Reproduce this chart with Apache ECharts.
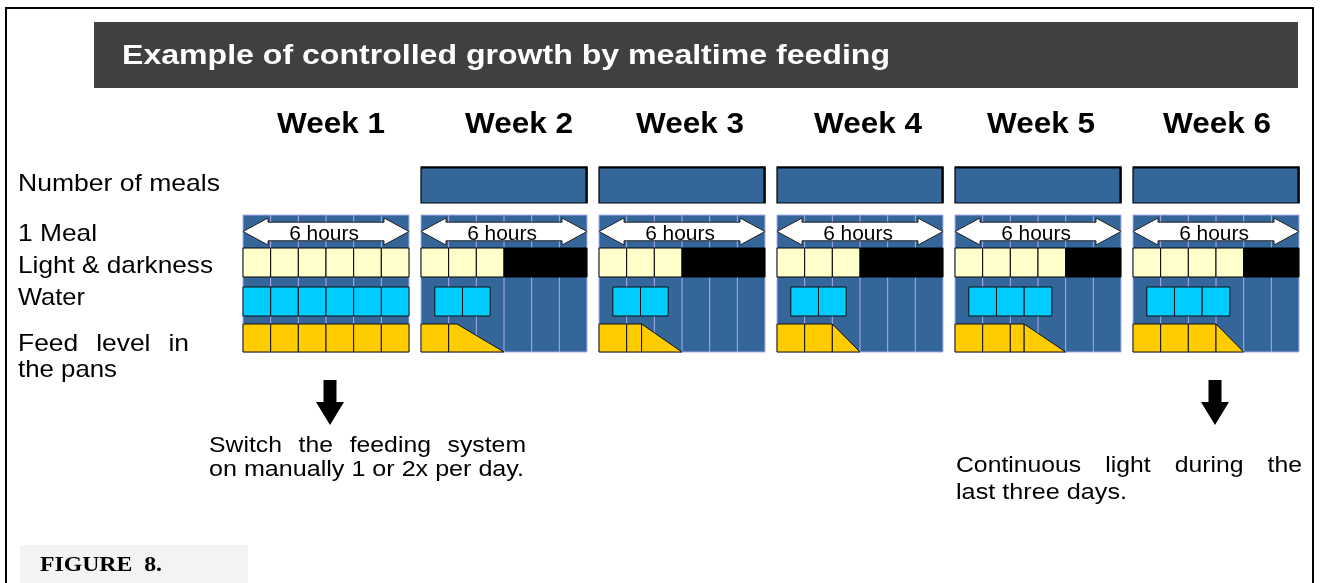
<!DOCTYPE html>
<html><head><meta charset="utf-8">
<script src="https://cdn.jsdelivr.net/npm/echarts@6/dist/echarts.min.js"></script>
<style>html,body{margin:0;padding:0;background:#fff}#c{width:1320px;height:583px}</style>
</head><body><div id="c"></div>
<script>
// ---------- data ----------
const title = 'Example of controlled growth by mealtime feeding';
const weeks = ['Week 1','Week 2','Week 3','Week 4','Week 5','Week 6'];
const rowLabels = ['Number of meals','1 Meal','Light & darkness','Water','Feed level in','the pans'];
const hoursPerBlock = 6;
const spanLabel = '6 hours';
const mealBar = [0,1,1,1,1,1];
const lightCells = [6,3,3,3,4,4];
const waterStart = [0,0.5,0.5,0.5,0.5,0.5];
const waterCells = [6,2,2,2,3,3];
const feedSegments = [[1,1,1,1,1,1],[1],[1,0.54],[1,1],[1,1,0.5],[1,1,1]];
const feedSlopeTop = [0,0.3,0,0,0,0];
const feedSlopeEnd = [6,3,3,3,4,4];
const noteWeeks = [0,5];
const notes = [['Switch the feeding system','on manually 1 or 2x per day.'],['Continuous light during the','last three days.']];
const figureLabel = 'FIGURE  8.';

// ---------- layout ----------
const G_LEFT = 243, G_PITCH = 178, G_W = 166, G_TOP = 167, G_H = 185;
const ROW = {meal:[0,36], bg:[48,185], arrowMid:64.5, light:[81,110], water:[120,149], feed:[157,185]};
const weekLabelX = [331, 519, 690, 868, 1041, 1217];
const SANS = '"Liberation Sans", Arial, sans-serif';
const SERIF = '"Liberation Serif", "Times New Roman", serif';
const BLUE = '#346699', LAV = '#a9aef0';

const ctx = document.createElement('canvas').getContext('2d');
function measure(t, font){ ctx.font = font; return ctx.measureText(t).width; }
function txt(t, font, x, y, sx, fill, align){
  return {type:'text', x:x, y:y, scaleX:sx, originX:0, originY:0, z:10,
    style:{text:t, font:font, fill:fill||'#000', align:align||'left', verticalAlign:'middle',
      textAlign:align||'left', textVerticalAlign:'middle'}};
}
function fit(t, font, x0, x1, y, fill){ return txt(t, font, x0, y, (x1-x0)/measure(t,font), fill); }
function justify(t, font, x0, x1, y, sx){
  const words = t.split(' ');
  const ws = words.map(w => measure(w,font)*sx);
  const total = ws.reduce((a,b)=>a+b,0);
  const gap = (x1-x0-total)/(words.length-1);
  let x = x0; const out = [];
  words.forEach((w,i)=>{ out.push(txt(w,font,x,y,sx)); x += ws[i]+gap; });
  return out;
}

function weekItems(w){
  const it = [];
  it.push([0,0,hoursPerBlock,0]);
  for (let k=1;k<hoursPerBlock;k++) it.push([1,k,k,0]);
  if (mealBar[w]) it.push([2,0,hoursPerBlock,0]);
  it.push([3,0,hoursPerBlock,0]);
  for (let k=0;k<lightCells[w];k++) it.push([4,k,k+1,0]);
  if (lightCells[w]<hoursPerBlock) it.push([5,lightCells[w],hoursPerBlock,0]);
  for (let k=0;k<waterCells[w];k++) it.push([6,waterStart[w]+k,waterStart[w]+k+1,0]);
  let x = 0;
  feedSegments[w].forEach(s => { it.push([7,x,x+s,0]); x += s; });
  if (feedSlopeEnd[w] > x) it.push([8,x,feedSlopeEnd[w],feedSlopeTop[w]]);
  return it;
}

function renderItem(params, api){
  const kind = api.value(0), a = api.value(1), b = api.value(2), c = api.value(3);
  function R(x0,x1,yy){ const p0=api.coord([x0,yy[0]]), p1=api.coord([x1,yy[1]]);
    return {x:p0[0], y:p0[1], width:p1[0]-p0[0], height:p1[1]-p0[1]}; }
  if (kind===0) return {type:'rect', shape:R(a,b,ROW.bg), style:{fill:BLUE, stroke:LAV, lineWidth:1}};
  if (kind===1){ const p0=api.coord([a,ROW.bg[0]]), p1=api.coord([a,ROW.bg[1]]);
    return {type:'line', shape:{x1:p0[0],y1:p0[1],x2:p1[0],y2:p1[1]}, style:{stroke:LAV, lineWidth:1}}; }
  if (kind===2){
    const r = R(a,b,ROW.meal);
    return {type:'group', children:[
      {type:'rect', shape:r, style:{fill:BLUE, stroke:'#000', lineWidth:1.2}},
      {type:'polyline', shape:{points:[[r.x,r.y+0.5],[r.x+r.width-0.5,r.y+0.5],[r.x+r.width-0.5,r.y+r.height]]}, style:{stroke:'#000', lineWidth:2.2, fill:null}}
    ]};
  }
  if (kind===3){
    const p0=api.coord([a,ROW.arrowMid]), p1=api.coord([b,ROW.arrowMid]);
    const x0=p0[0], x1=p1[0], ym=p0[1], hl=25, hh=13.5, sh=9.3;
    const pts=[[x0,ym],[x0+hl,ym-hh],[x0+hl,ym-sh],[x1-hl,ym-sh],[x1-hl,ym-hh],[x1,ym],
      [x1-hl,ym+hh],[x1-hl,ym+sh],[x0+hl,ym+sh],[x0+hl,ym+hh]];
    return {type:'group', children:[
      {type:'polygon', shape:{points:pts}, style:{fill:'#fff', stroke:'#222', lineWidth:1}},
      {type:'text', x:(x0+x1)/2 - 2, y:ym+2.5, scaleX:1.02, style:{text:spanLabel, font:'20.5px '+SANS, fill:'#000',
        align:'center', verticalAlign:'middle', textAlign:'center', textVerticalAlign:'middle'}}
    ]};
  }
  if (kind===4) return {type:'rect', shape:R(a,b,ROW.light), style:{fill:'#ffffcc', stroke:'#000', lineWidth:1}};
  if (kind===5) return {type:'rect', shape:R(a,b,ROW.light), style:{fill:'#000', stroke:'#000', lineWidth:1}};
  if (kind===6) return {type:'rect', shape:R(a,b,ROW.water), style:{fill:'#00ccff', stroke:'#111', lineWidth:1}};
  if (kind===7) return {type:'rect', shape:R(a,b,ROW.feed), style:{fill:'#ffcc00', stroke:'#111', lineWidth:1}};
  if (kind===8){
    const pts=[api.coord([a,ROW.feed[0]]), api.coord([a+c,ROW.feed[0]]), api.coord([b,ROW.feed[1]]), api.coord([a,ROW.feed[1]])];
    return {type:'polygon', shape:{points:pts}, style:{fill:'#ffcc00', stroke:'#111', lineWidth:1}};
  }
  return null;
}

const grids=[], xAxes=[], yAxes=[], series=[];
weeks.forEach((w,i)=>{
  grids.push({left:G_LEFT+G_PITCH*i, top:G_TOP, width:G_W, height:G_H});
  xAxes.push({gridIndex:i, type:'value', min:0, max:hoursPerBlock, show:false});
  yAxes.push({gridIndex:i, type:'value', min:0, max:G_H, inverse:true, show:false});
  series.push({type:'custom', xAxisIndex:i, yAxisIndex:i, renderItem:renderItem, data:weekItems(i), animation:false, silent:true});
});

// ---------- graphics: frame, title, labels, notes ----------
const g = [];
g.push({type:'rect', shape:{x:6, y:8, width:1307, height:620}, style:{fill:null, stroke:'#000', lineWidth:2}, z:1});
g.push({type:'rect', shape:{x:94, y:22, width:1204, height:66}, style:{fill:'#404040'}, z:1});
g.push(fit(title, 'bold 27px '+SANS, 122, 890, 56.5, '#fff'));
weeks.forEach((w,i)=>{
  const f='bold 30px '+SANS, wd=108;
  g.push(fit(w, f, weekLabelX[i]-wd/2, weekLabelX[i]+wd/2, 125));
});
const LF = '24px '+SANS;
g.push(fit(rowLabels[0], LF, 18, 220, 184));
g.push(fit(rowLabels[1], LF, 18, 97, 234));
g.push(fit(rowLabels[2], LF, 18, 213, 266));
g.push(fit(rowLabels[3], LF, 18, 85, 298));
g.push(...justify(rowLabels[4], LF, 18, 189, 344, 1.1));
g.push(fit(rowLabels[5], LF, 18, 117, 370.5));

// down arrows
noteWeeks.forEach(wk=>{
  const cx = G_LEFT + G_PITCH*wk + G_W/2 + (wk===0?4:-1);
  g.push({type:'polygon', z:5, shape:{points:[[cx-6.5,380],[cx+6.5,380],[cx+6.5,402],[cx+14,402],[cx,425],[cx-14,402],[cx-6.5,402]]}, style:{fill:'#000'}});
});
const NF = '22.5px '+SANS;
g.push(...justify(notes[0][0], NF, 209, 526, 446, 1.1));
g.push(fit(notes[0][1], NF, 209, 524, 470));
g.push(...justify(notes[1][0], NF, 956, 1302, 466, 1.1));
g.push(fit(notes[1][1], NF, 956, 1127, 492.5));

g.push({type:'rect', shape:{x:20, y:545, width:228, height:45}, style:{fill:'#f3f3f3'}, z:1});
g.push(fit(figureLabel, 'bold 21px '+SERIF, 40, 162, 566));

const chart = echarts.init(document.getElementById('c'), null, {renderer:'canvas'});
chart.setOption({
  animation:false,
  backgroundColor:'#fff',
  grid:grids, xAxis:xAxes, yAxis:yAxes, series:series,
  graphic:{elements:g}
});
</script></body></html>
